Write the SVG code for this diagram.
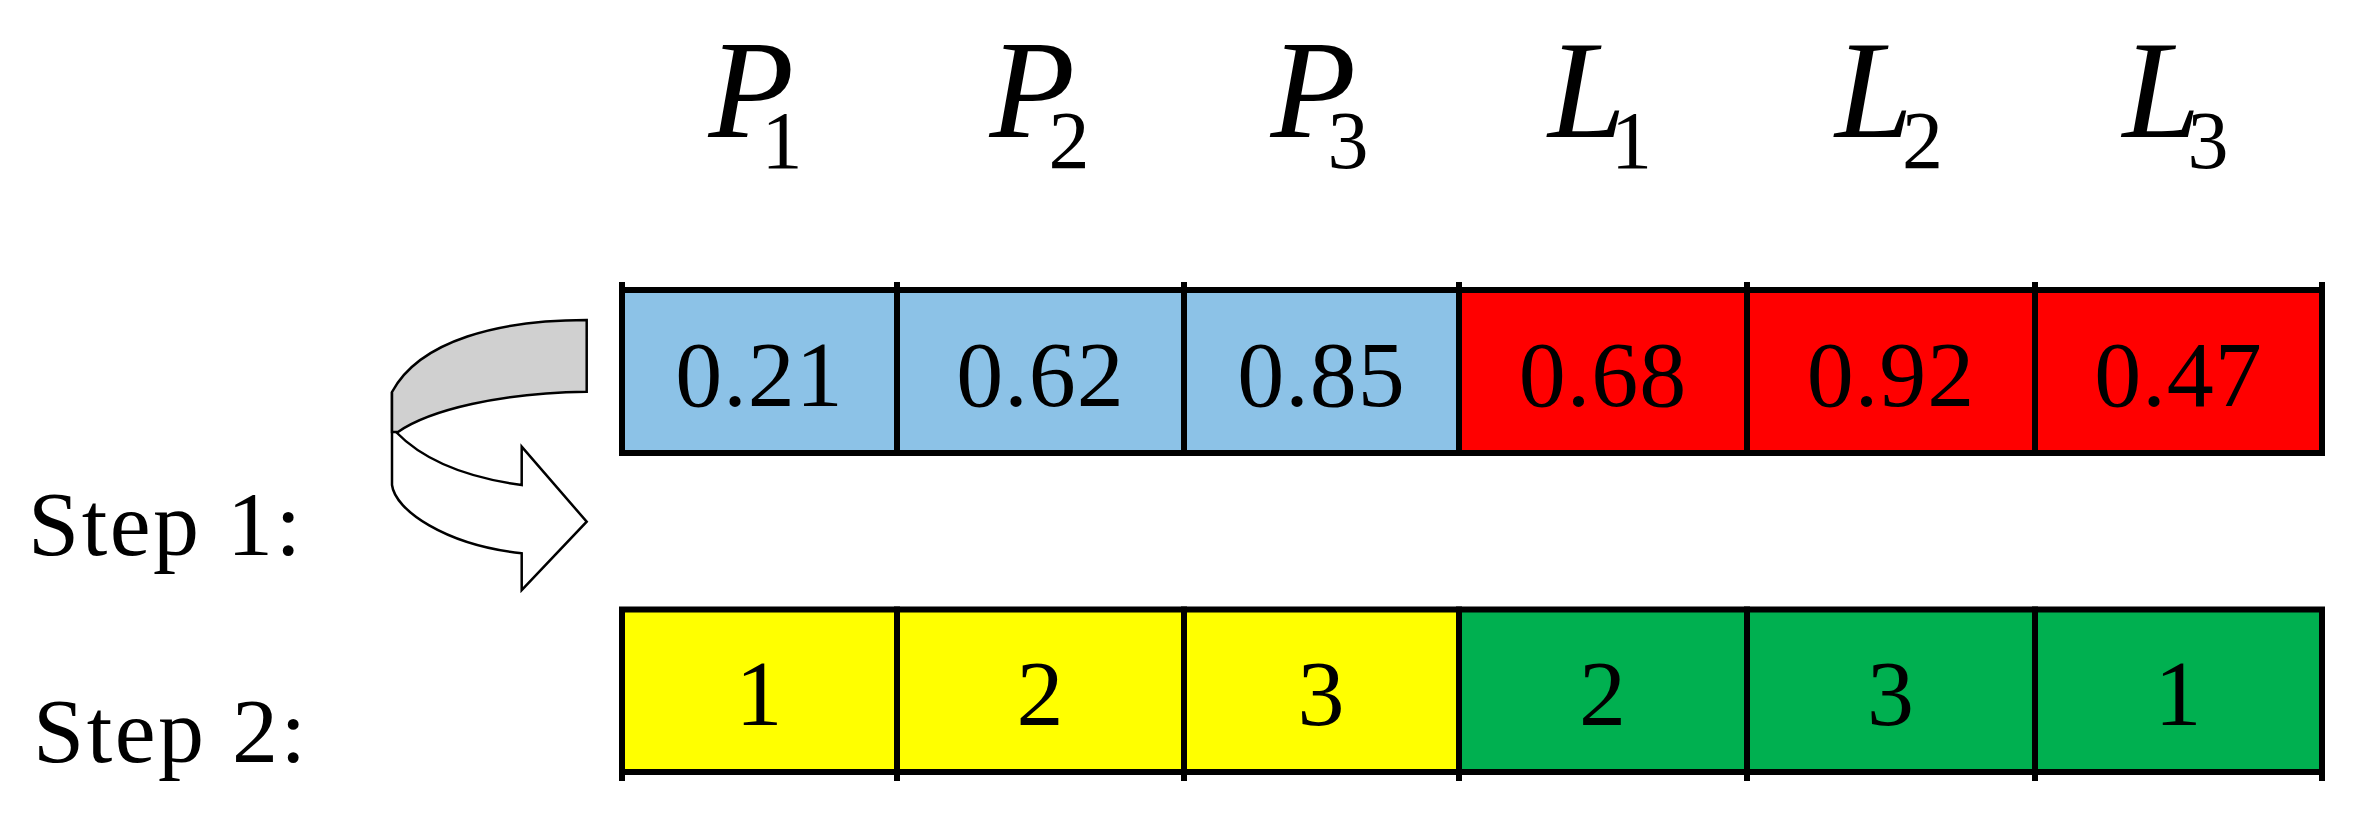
<svg xmlns="http://www.w3.org/2000/svg" width="2355" height="817" viewBox="0 0 2355 817">
<style>
.cell{stroke:#000;stroke-width:6}
.blue{fill:#8CC2E7}.red{fill:#FF0000}.yellow{fill:#FFFF00}.green{fill:#00B050}
.tick{stroke:#000;stroke-width:6}
.num{font-family:"Liberation Serif","Times New Roman",serif;font-size:94px;letter-spacing:1px;fill:#000;text-anchor:middle}
.hdr{font-family:"Liberation Serif","Times New Roman",serif;font-size:140px;font-style:italic;fill:#000}
.sub{font-size:82px;font-style:normal}
.lbl{font-family:"Liberation Serif","Times New Roman",serif;font-size:92px;letter-spacing:2.5px;fill:#000}
.arr{stroke:#000;stroke-width:2.5;stroke-linejoin:miter}
</style>
<rect width="2355" height="817" fill="#fff"/>

<g id="headers">
<text id="h-P1" class="hdr" x="708.5" y="137">P<tspan class="sub" x="761.5" y="168">1</tspan></text>
<text id="h-P2" class="hdr" x="989.5" y="137">P<tspan class="sub" x="1048.5" y="168">2</tspan></text>
<text id="h-P3" class="hdr" x="1270.5" y="137">P<tspan class="sub" x="1327.5" y="168">3</tspan></text>
<text id="h-L1" class="hdr" x="1548" y="137">L<tspan class="sub" x="1611" y="168">1</tspan></text>
<text id="h-L2" class="hdr" x="1835" y="137">L<tspan class="sub" x="1902" y="168">2</tspan></text>
<text id="h-L3" class="hdr" x="2122.5" y="137">L<tspan class="sub" x="2187.5" y="168">3</tspan></text>
</g>

<g id="row1">
<g id="r1c1"><rect class="cell blue" x="622" y="290" width="275" height="163"/><text class="num" x="759.5" y="406">0.21</text></g>
<g id="r1c2"><rect class="cell blue" x="897" y="290" width="287" height="163"/><text class="num" x="1040.5" y="406">0.62</text></g>
<g id="r1c3"><rect class="cell blue" x="1184" y="290" width="275" height="163"/><text class="num" x="1321.5" y="406">0.85</text></g>
<g id="r1c4"><rect class="cell red" x="1459" y="290" width="288" height="163"/><text class="num" x="1603" y="406">0.68</text></g>
<g id="r1c5"><rect class="cell red" x="1747" y="290" width="288" height="163"/><text class="num" x="1891" y="406">0.92</text></g>
<g id="r1c6"><rect class="cell red" x="2035" y="290" width="287" height="163"/><text class="num" x="2178.5" y="406">0.47</text></g>
<path class="tick" d="M622 282V293M897 282V293M1184 282V293M1459 282V293M1747 282V293M2035 282V293M2322 282V293"/>
</g>

<g id="row2">
<g id="r2c1"><rect class="cell yellow" x="622" y="609.5" width="275" height="162.5"/><text class="num" x="759.5" y="725">1</text></g>
<g id="r2c2"><rect class="cell yellow" x="897" y="609.5" width="287" height="162.5"/><text class="num" x="1040.5" y="725">2</text></g>
<g id="r2c3"><rect class="cell yellow" x="1184" y="609.5" width="275" height="162.5"/><text class="num" x="1321.5" y="725">3</text></g>
<g id="r2c4"><rect class="cell green" x="1459" y="609.5" width="288" height="162.5"/><text class="num" x="1603" y="725">2</text></g>
<g id="r2c5"><rect class="cell green" x="1747" y="609.5" width="288" height="162.5"/><text class="num" x="1891" y="725">3</text></g>
<g id="r2c6"><rect class="cell green" x="2035" y="609.5" width="287" height="162.5"/><text class="num" x="2178.5" y="725">1</text></g>
<path class="tick" d="M622 769V781M897 769V781M1184 769V781M1459 769V781M1747 769V781M2035 769V781M2322 769V781"/>
</g>

<g id="labels">
<text id="step1" class="lbl" x="28" y="555">Step 1:</text>
<text id="step2" class="lbl" x="33" y="762">Step 2:</text>
</g>

<g id="connectors">
<path class="arr" fill="#fff" d="M392 392 L392 485 C395 510 445 545 521.7 553.3 L521.7 590 L586.7 521.7 L521.7 446.7 L521.7 485 C470 478 425 462 396 432 Z"/>
<path class="arr" fill="#D0D0D0" d="M586.7 320 C500 320 420 340 392 392 L392 432 L398 432 C430 410 500 393 586.7 391.7 Z"/>
</g>
</svg>
